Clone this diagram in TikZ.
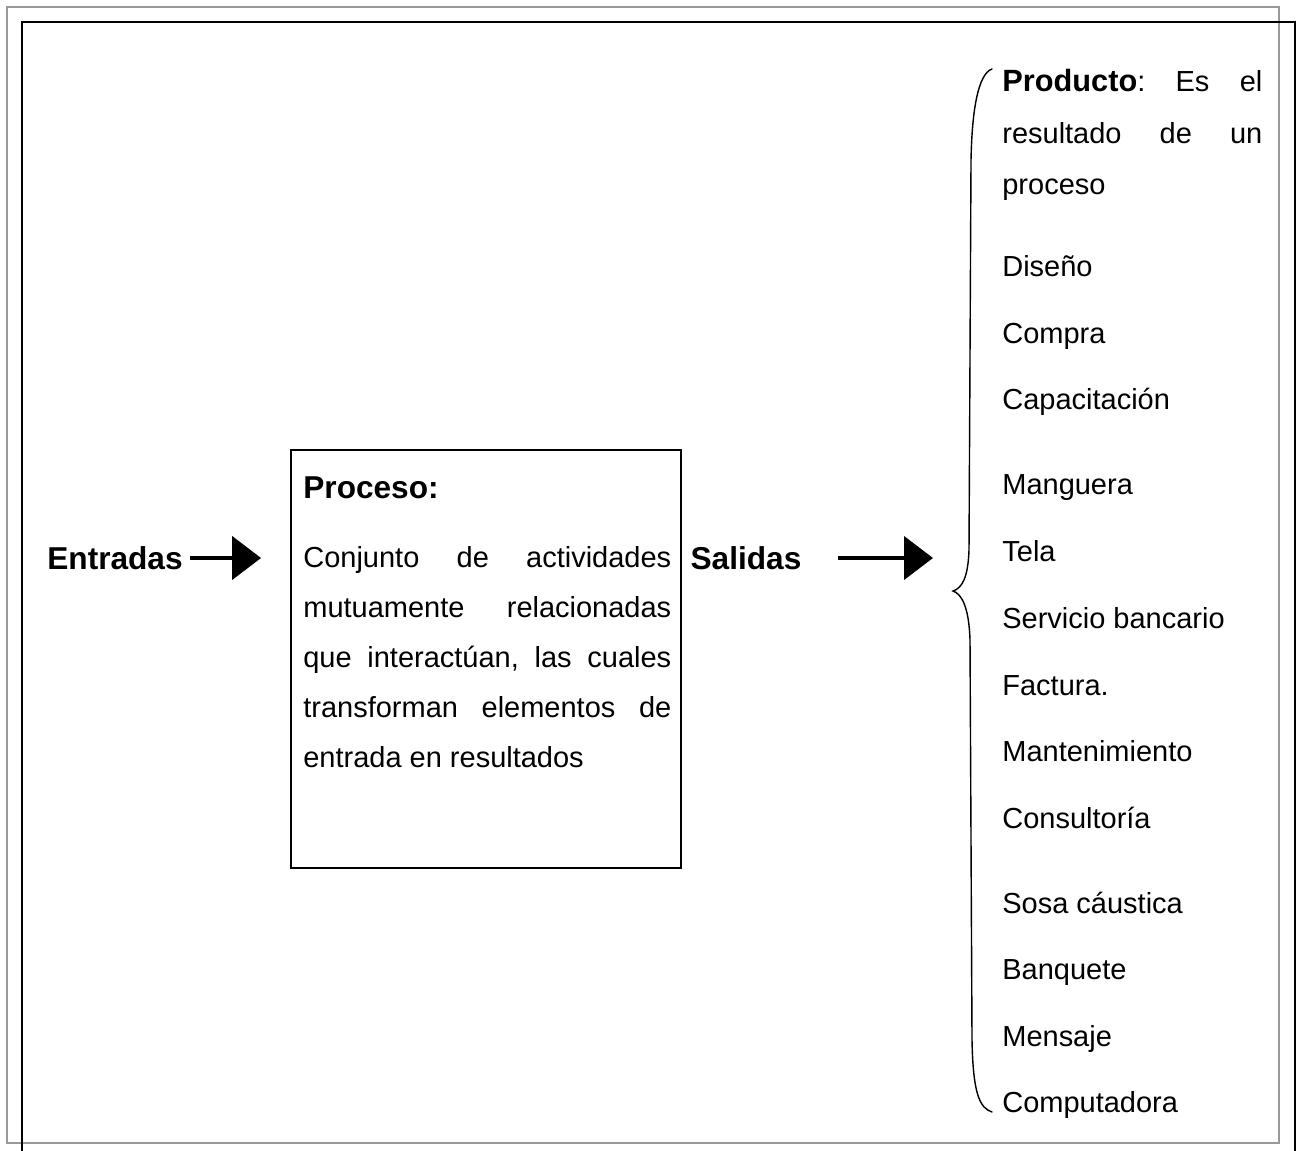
\documentclass[tikz,border=0pt]{standalone}
\usepackage{fontspec}
\setmainfont{Liberation Sans}
\usetikzlibrary{arrows.meta,positioning}
\frenchspacing

\begin{document}
\begin{tikzpicture}[x=0.02cm,y=-0.02cm]
\tikzset{
  outerframe/.style={draw=black!40,line width=1.1pt},
  innerframe/.style={draw=black,line width=1.1pt},
  bigword/.style={inner sep=0pt,font=\fontsize{18}{22}\selectfont\bfseries},
  listitem/.style={anchor=base west,inner sep=0pt,font=\fontsize{16.5}{20}\selectfont},
  procbox/.style={draw,line width=1.1pt,minimum width=7.8cm,minimum height=8.36cm,inner sep=0pt},
  bodytext/.style={anchor=north west,inner sep=0pt,align=justify},
  flowarrow/.style={-{Triangle[length=0.58cm,width=0.86cm]},line width=2.5pt},
  bracepath/.style={line width=0.8pt,line cap=round}
}
\useasboundingbox (0,0) rectangle (1300,1151);
% frames
\draw[outerframe] (7,7) rectangle (1279,1143);
\draw[innerframe] (22,1151) -- (22,22) -- (1295,22) -- (1295,1151);

% input, process, output
\node[bigword] (entradas) at (115,558) {Entradas};
\node[procbox] (proc) at (486,659) {};
\node[bigword,anchor=base west] (proctitle) at (303,499) {Proceso:};
\node[bodytext,text width=7.36cm,font=\fontsize{16.5}{28.45}\selectfont] (procbody) at (303,546)
  {Conjunto de actividades\linebreak mutuamente relacionadas\linebreak que interactúan, las cuales\linebreak transforman elementos de\linebreak entrada en resultados};
\node[bigword] (salidas) at (746,558) {Salidas};

\draw[flowarrow,shorten <=0.14cm,shorten >=0.58cm] (entradas.east) -- (entradas.east -| proc.west);

% brace
\coordinate (bracetip) at (953,591);
\draw[bracepath] (992,69) .. controls (978,74) and (972,110) .. (971,160) -- (969,550)
  .. controls (968,578) and (962,588) .. (bracetip)
  .. controls (962,594) and (969,608) .. (970,640) -- (972,1040)
  .. controls (973,1095) and (980,1108) .. (992,1112);
\draw[flowarrow,shorten <=0.72cm,shorten >=0.4cm] (salidas.east) -- (salidas.east -| bracetip);

% outputs
\node[bodytext,text width=5.2cm,font=\fontsize{16.5}{29.3}\selectfont] (producto) at (1002,69)
  {{\fontsize{17.5}{29.3}\selectfont\bfseries Producto}: Es el\linebreak resultado de un\linebreak proceso};
\node[listitem] (diseno) at (1002,277) {Diseño};
\node[listitem] (compra) at (1002,344) {Compra};
\node[listitem] (capacitacion) at (1002,410) {Capacitación};
\node[listitem] (manguera) at (1002,495) {Manguera};
\node[listitem] (tela) at (1002,561) {Tela};
\node[listitem] (servicio) at (1002,628) {Servicio bancario};
\node[listitem] (factura) at (1002,695) {Factura.};
\node[listitem] (mantenimiento) at (1002,761) {Mantenimiento};
\node[listitem] (consultoria) at (1002,828) {Consultoría};
\node[listitem] (sosa) at (1002,913) {Sosa cáustica};
\node[listitem] (banquete) at (1002,979) {Banquete};
\node[listitem] (mensaje) at (1002,1046) {Mensaje};
\node[listitem] (computadora) at (1002,1112) {Computadora};
\end{tikzpicture}
\end{document}
